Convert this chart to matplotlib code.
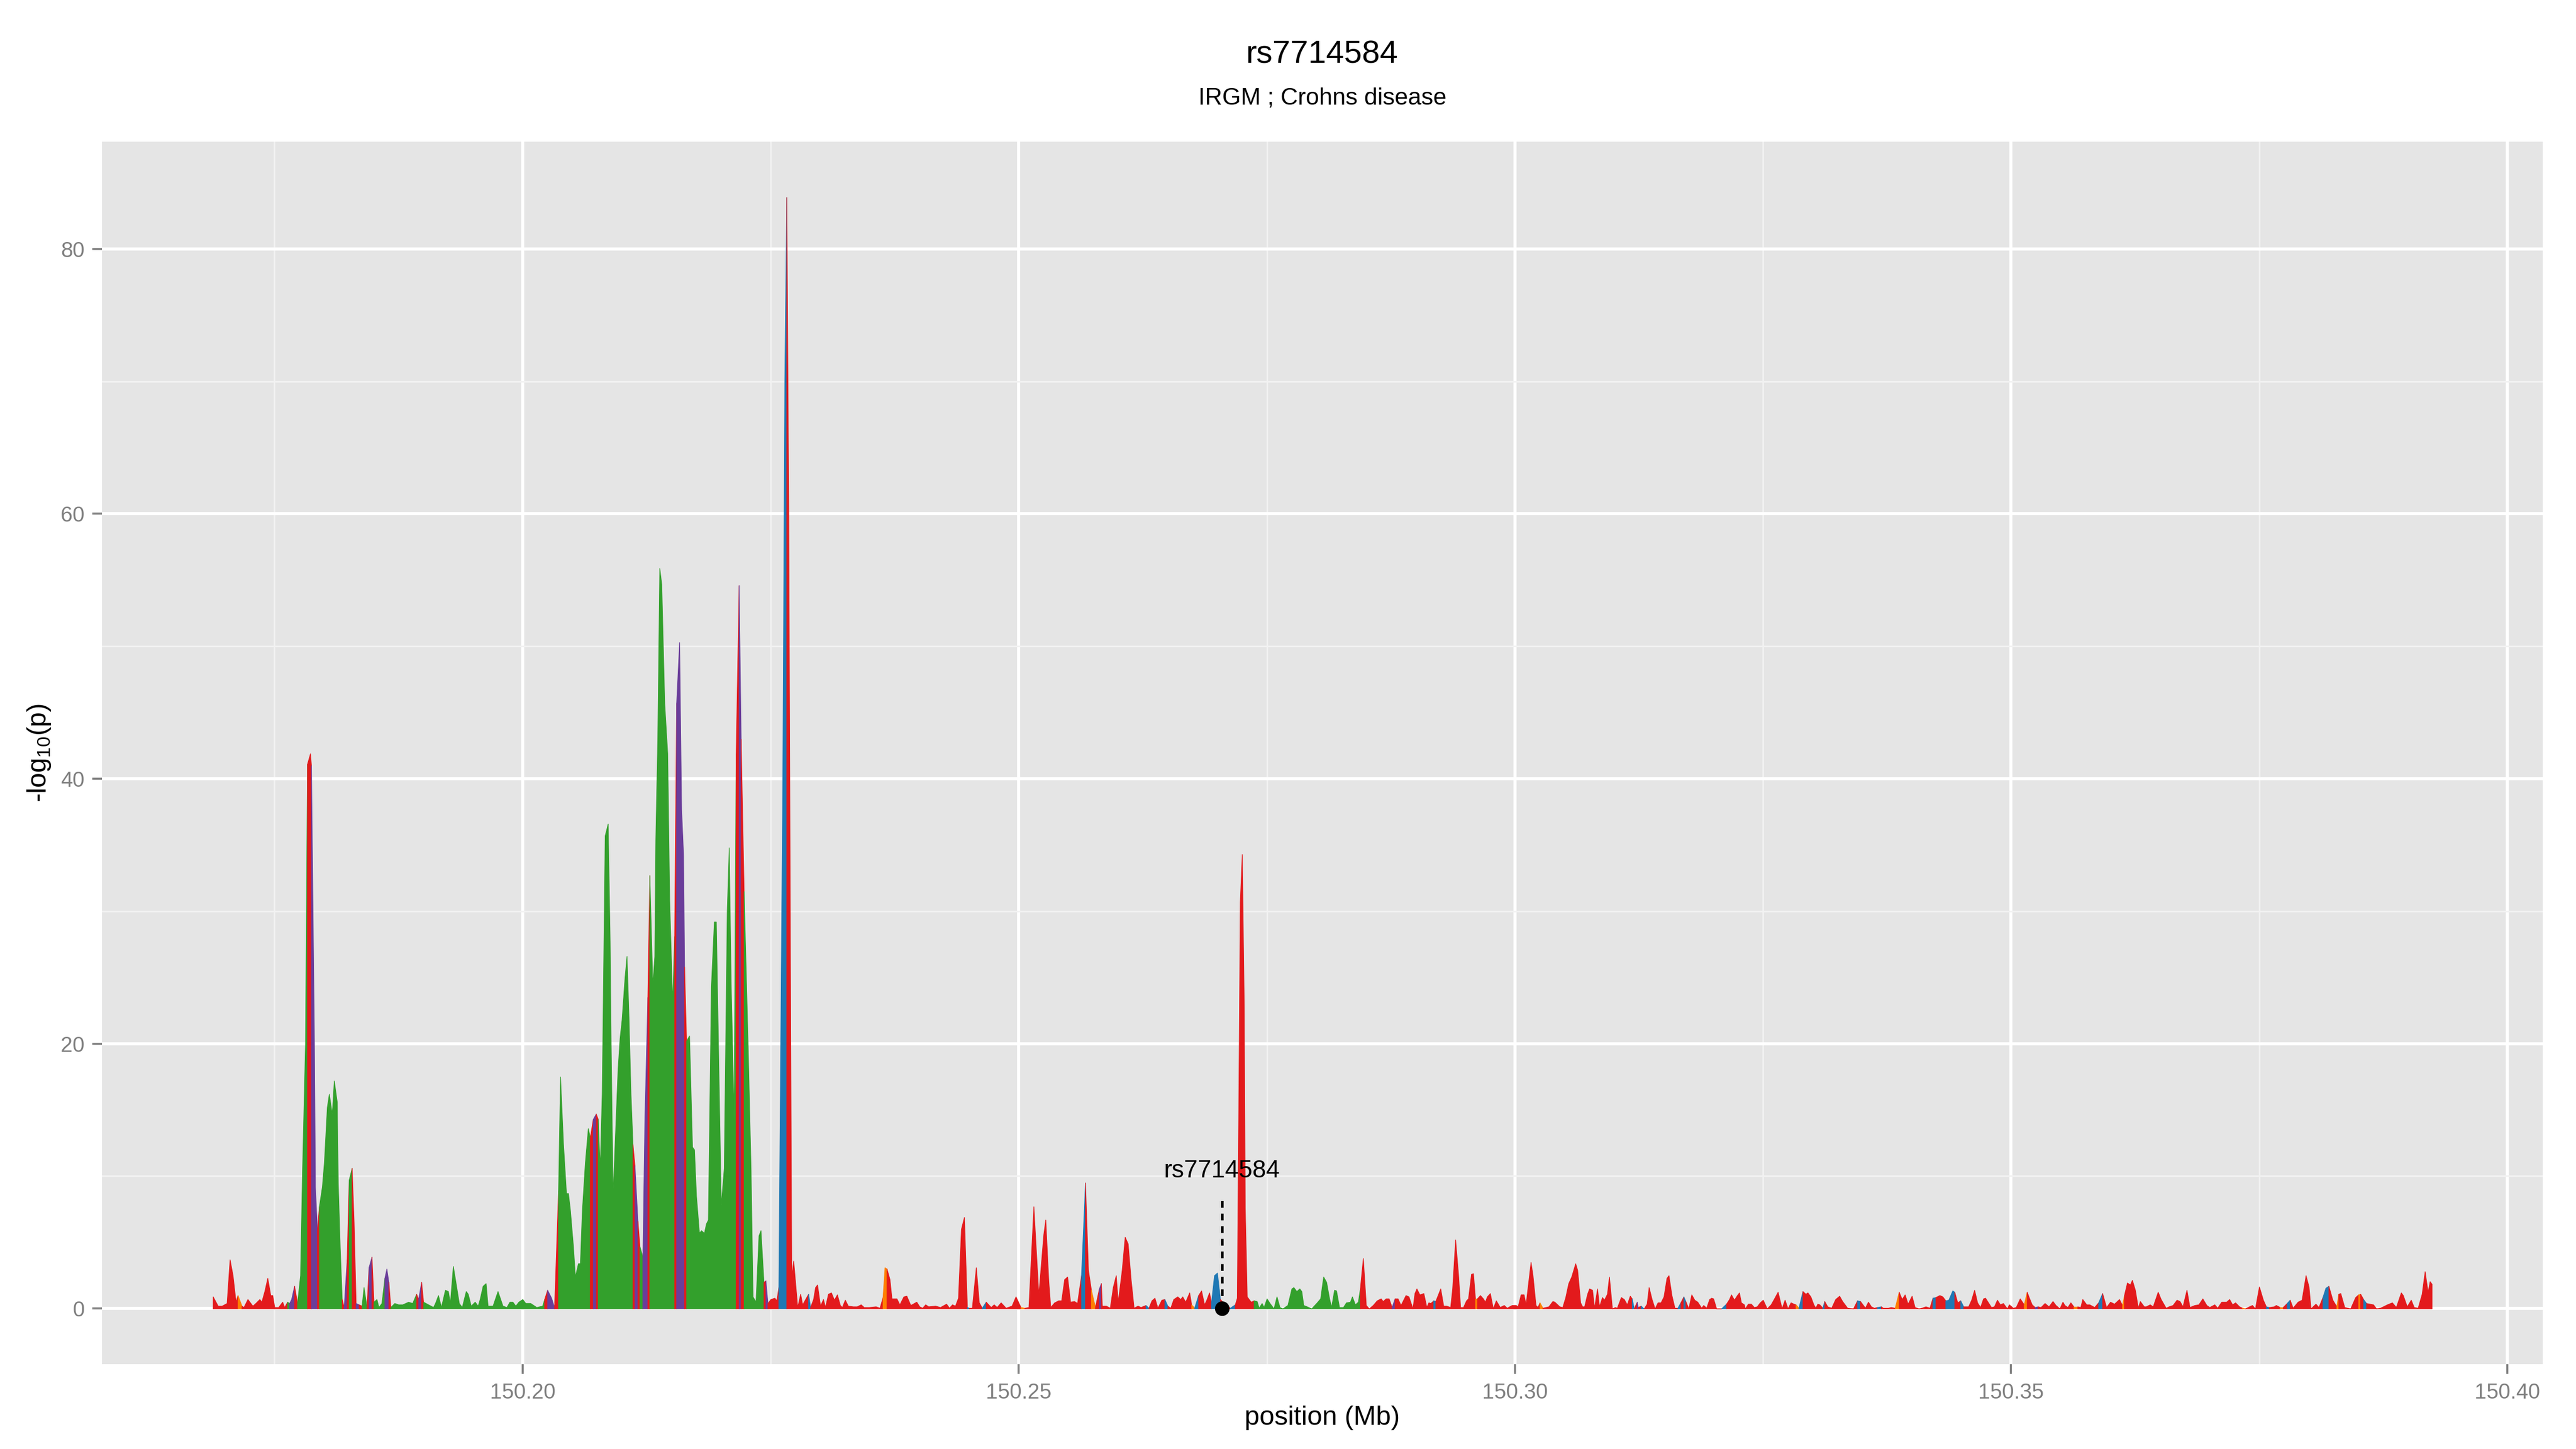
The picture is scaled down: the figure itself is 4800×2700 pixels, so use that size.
import numpy as np
import matplotlib
matplotlib.use("Agg")
import matplotlib.pyplot as plt
from matplotlib.ticker import MultipleLocator, FixedLocator

plt.rcParams['font.family'] = ['Liberation Sans', 'DejaVu Sans']
plt.rcParams['mathtext.fontset'] = 'custom'
plt.rcParams['mathtext.rm'] = 'Liberation Sans'
plt.rcParams['mathtext.it'] = 'Liberation Sans:italic'

# chart values
title = 'rs7714584'
subtitle = 'IRGM ; Crohns disease'
snp_label = 'rs7714584'
snp_pos = 150.2705
snp_line_top = 8.35

pos_mb = [
    150.1688, 150.1693, 150.1697, 150.1702, 150.1705, 150.1708, 150.1711, 150.1713, 150.1717, 150.1719,
    150.1723, 150.1728, 150.1731, 150.1735, 150.1737, 150.1740, 150.1743, 150.1746, 150.1748, 150.1750,
    150.1754, 150.1758, 150.1760, 150.1763, 150.1765, 150.1767, 150.1770, 150.1773, 150.1776, 150.1778,
    150.1781, 150.1783, 150.1786, 150.1787, 150.1790, 150.1791, 150.1793, 150.1795, 150.1798, 150.1800, 150.1803,
    150.1805, 150.1808, 150.1810, 150.1813, 150.1814, 150.1816, 150.1818, 150.1820, 150.1823, 150.1825,
    150.1828, 150.1830, 150.1832, 150.1835, 150.1838, 150.1840, 150.1843, 150.1845, 150.1848, 150.1850,
    150.1853, 150.1855, 150.1858, 150.1861, 150.1863, 150.1865, 150.1867, 150.1871, 150.1875, 150.1879,
    150.1885, 150.1889, 150.1893, 150.1895, 150.1898, 150.1900, 150.1905, 150.1910, 150.1912, 150.1915,
    150.1918, 150.1922, 150.1925, 150.1927, 150.1930, 150.1936, 150.1939, 150.1943, 150.1945, 150.1948,
    150.1952, 150.1955, 150.1957, 150.1960, 150.1963, 150.1965, 150.1970, 150.1975, 150.1980, 150.1984,
    150.1987, 150.1990, 150.1993, 150.1996, 150.2000, 150.2003, 150.2008, 150.2014, 150.2020, 150.2022,
    150.2025, 150.2029, 150.2032, 150.2036, 150.2038, 150.2041, 150.2044, 150.2046, 150.2048, 150.2051,
    150.2053, 150.2056, 150.2058, 150.2060, 150.2063, 150.2066, 150.2068, 150.2071, 150.2074, 150.2076,
    150.2078, 150.2080, 150.2083, 150.2086, 150.2088, 150.2089, 150.2091, 150.2093, 150.2096, 150.2098,
    150.2100, 150.2103, 150.2105, 150.2107, 150.2109, 150.2111, 150.2113, 150.2116, 150.2118, 150.2121,
    150.2123, 150.2126, 150.2128, 150.2131, 150.2133, 150.2134, 150.2136, 150.2138, 150.2140, 150.2143,
    150.2146, 150.2148, 150.2151, 150.2153, 150.2155, 150.2158, 150.2160, 150.2162, 150.2163, 150.2165,
    150.2168, 150.2171, 150.2173, 150.2175, 150.2178, 150.2180, 150.2183, 150.2185, 150.2187, 150.2190,
    150.2193, 150.2195, 150.2198, 150.2200, 150.2203, 150.2206, 150.2208, 150.2210, 150.2213, 150.2214,
    150.2215, 150.2218, 150.2220, 150.2223, 150.2227, 150.2230, 150.2232, 150.2235, 150.2238, 150.2240,
    150.2243, 150.2245, 150.2247, 150.2250, 150.2254, 150.2256, 150.2258, 150.2262, 150.2264, 150.2266,
    150.2268, 150.2270, 150.2271, 150.2273, 150.2277, 150.2280, 150.2282, 150.2288, 150.2290, 150.2293,
    150.2295, 150.2297, 150.2300, 150.2303, 150.2305, 150.2308, 150.2311, 150.2314, 150.2317, 150.2320,
    150.2322, 150.2325, 150.2328, 150.2333, 150.2337, 150.2341, 150.2344, 150.2349, 150.2356, 150.2360,
    150.2363, 150.2365, 150.2367, 150.2370, 150.2372, 150.2377, 150.2380, 150.2384, 150.2387, 150.2391,
    150.2397, 150.2400, 150.2403, 150.2406, 150.2409, 150.2416, 150.2421, 150.2427, 150.2430, 150.2433,
    150.2436, 150.2439, 150.2442, 150.2445, 150.2448, 150.2450, 150.2453, 150.2457, 150.2460, 150.2463,
    150.2467, 150.2472, 150.2475, 150.2478, 150.2482, 150.2487, 150.2493, 150.2497, 150.2502, 150.2506,
    150.2510, 150.2515, 150.2520, 150.2525, 150.2527, 150.2530, 150.2532, 150.2536, 150.2540, 150.2543,
    150.2546, 150.2549, 150.2552, 150.2556, 150.2559, 150.2563, 150.2567, 150.2570, 150.2573, 150.2577,
    150.2581, 150.2583, 150.2584, 150.2588, 150.2592, 150.2595, 150.2598, 150.2600, 150.2604, 150.2607,
    150.2610, 150.2613, 150.2616, 150.2620, 150.2623, 150.2628, 150.2631, 150.2634, 150.2637, 150.2640,
    150.2644, 150.2647, 150.2650, 150.2653, 150.2656, 150.2660, 150.2663, 150.2665, 150.2668, 150.2672,
    150.2674, 150.2677, 150.2681, 150.2684, 150.2687, 150.2689, 150.2692, 150.2694, 150.2697, 150.2700,
    150.2703, 150.2708, 150.2713, 150.2718, 150.2720, 150.2722, 150.2723, 150.2725, 150.2727, 150.2728,
    150.2730, 150.2734, 150.2737, 150.2740, 150.2742, 150.2745, 150.2747, 150.2750, 150.2753, 150.2757,
    150.2760, 150.2763, 150.2766, 150.2771, 150.2775, 150.2777, 150.2780, 150.2783, 150.2785, 150.2787,
    150.2792, 150.2795, 150.2800, 150.2804, 150.2807, 150.2810, 150.2813, 150.2815, 150.2818, 150.2820,
    150.2823, 150.2827, 150.2830, 150.2834, 150.2836, 150.2839, 150.2842, 150.2844, 150.2847, 150.2850,
    150.2853, 150.2857, 150.2861, 150.2865, 150.2867, 150.2870, 150.2873, 150.2876, 150.2879, 150.2882,
    150.2885, 150.2890, 150.2893, 150.2897, 150.2899, 150.2901, 150.2904, 150.2908, 150.2911, 150.2913,
    150.2915, 150.2918, 150.2920, 150.2925, 150.2928, 150.2931, 150.2935, 150.2937, 150.2940, 150.2943,
    150.2945, 150.2948, 150.2951, 150.2953, 150.2956, 150.2958, 150.2960, 150.2962, 150.2965, 150.2968,
    150.2970, 150.2972, 150.2975, 150.2978, 150.2981, 150.2985, 150.2989, 150.2992, 150.2997, 150.3001,
    150.3003, 150.3006, 150.3009, 150.3011, 150.3016, 150.3018, 150.3021, 150.3023, 150.3025, 150.3028,
    150.3031, 150.3034, 150.3038, 150.3040, 150.3045, 150.3048, 150.3051, 150.3054, 150.3057, 150.3061,
    150.3063, 150.3066, 150.3068, 150.3070, 150.3073, 150.3075, 150.3078, 150.3080, 150.3083, 150.3085,
    150.3088, 150.3090, 150.3093, 150.3095, 150.3098, 150.3101, 150.3103, 150.3107, 150.3110, 150.3113,
    150.3116, 150.3118, 150.3120, 150.3123, 150.3124, 150.3127, 150.3130, 150.3133, 150.3135, 150.3138,
    150.3141, 150.3144, 150.3147, 150.3150, 150.3153, 150.3155, 150.3158, 150.3161, 150.3164, 150.3167,
    150.3170, 150.3172, 150.3175, 150.3178, 150.3181, 150.3184, 150.3188, 150.3190, 150.3193, 150.3196,
    150.3198, 150.3200, 150.3203, 150.3208, 150.3213, 150.3216, 150.3218, 150.3221, 150.3224, 150.3226,
    150.3228, 150.3231, 150.3232, 150.3235, 150.3238, 150.3241, 150.3244, 150.3247, 150.3250, 150.3254,
    150.3258, 150.3261, 150.3265, 150.3269, 150.3272, 150.3275, 150.3278, 150.3281, 150.3283, 150.3286,
    150.3290, 150.3293, 150.3295, 150.3298, 150.3301, 150.3303, 150.3305, 150.3307, 150.3310, 150.3312,
    150.3315, 150.3319, 150.3323, 150.3327, 150.3330, 150.3335, 150.3341, 150.3345, 150.3348, 150.3353,
    150.3356, 150.3359, 150.3362, 150.3365, 150.3369, 150.3371, 150.3376, 150.3379, 150.3383, 150.3387,
    150.3390, 150.3393, 150.3396, 150.3400, 150.3403, 150.3407, 150.3410, 150.3414, 150.3418, 150.3421,
    150.3424, 150.3428, 150.3431, 150.3434, 150.3437, 150.3441, 150.3443, 150.3446, 150.3449, 150.3452,
    150.3457, 150.3460, 150.3463, 150.3466, 150.3469, 150.3472, 150.3474, 150.3477, 150.3480, 150.3483,
    150.3486, 150.3489, 150.3492, 150.3496, 150.3498, 150.3502, 150.3505, 150.3509, 150.3513, 150.3516,
    150.3518, 150.3521, 150.3524, 150.3527, 150.3530, 150.3534, 150.3538, 150.3542, 150.3545, 150.3549,
    150.3552, 150.3554, 150.3557, 150.3560, 150.3563, 150.3567, 150.3570, 150.3572, 150.3576, 150.3579,
    150.3584, 150.3588, 150.3592, 150.3596, 150.3600, 150.3604, 150.3609, 150.3612, 150.3614, 150.3617,
    150.3620, 150.3622, 150.3625, 150.3628, 150.3630, 150.3634, 150.3636, 150.3640, 150.3643, 150.3648,
    150.3651, 150.3656, 150.3659, 150.3663, 150.3667, 150.3670, 150.3673, 150.3677, 150.3680, 150.3685,
    150.3689, 150.3693, 150.3697, 150.3700, 150.3705, 150.3708, 150.3712, 150.3717, 150.3720, 150.3723,
    150.3726, 150.3730, 150.3733, 150.3736, 150.3740, 150.3743, 150.3746, 150.3750, 150.3754, 150.3757,
    150.3760, 150.3765, 150.3767, 150.3771, 150.3774, 150.3778, 150.3781, 150.3784, 150.3789, 150.3793,
    150.3797, 150.3800, 150.3802, 150.3807, 150.3810, 150.3814, 150.3817, 150.3820, 150.3824, 150.3828,
    150.3830, 150.3832, 150.3836, 150.3842, 150.3847, 150.3850, 150.3852, 150.3855, 150.3858, 150.3865,
    150.3868, 150.3872, 150.3875, 150.3879, 150.3884, 150.3888, 150.3893, 150.3895, 150.3899, 150.3903,
    150.3906, 150.3910, 150.3914, 150.3917, 150.3920, 150.3922, 150.3924,
]

logp = [
    0.9, 0.2, 0.2, 0.4, 3.7, 2.5, 0.5, 1.0, 0.2, 0.1,
    0.7, 0.2, 0.4, 0.7, 0.5, 1.3, 2.3, 1.0, 1.0, 0.1,
    0.1, 0.5, 0.1, 0.5, 0.4, 0.7, 1.7, 0.4, 2.5, 10.4,
    20.0, 41.1, 41.9, 41.0, 20.0, 9.2, 5.9, 7.7, 9.2, 11.0, 15.2,
    16.2, 14.7, 17.2, 15.6, 9.5, 4.6, 0.7, 0.1, 3.7, 9.7,
    10.6, 6.5, 0.4, 0.3, 0.2, 1.6, 0.1, 3.1, 3.9, 0.5,
    0.7, 0.1, 0.4, 2.3, 3.0, 2.0, 0.1, 0.4, 0.3, 0.3,
    0.5, 0.4, 1.1, 0.7, 2.0, 0.5, 0.3, 0.1, 0.4, 1.0,
    0.1, 1.4, 1.3, 0.4, 3.2, 0.4, 0.1, 1.3, 1.1, 0.2,
    0.5, 0.2, 0.7, 1.7, 1.9, 0.2, 0.2, 1.3, 0.2, 0.1,
    0.5, 0.5, 0.2, 0.5, 0.7, 0.4, 0.4, 0.1, 0.2, 0.7,
    1.4, 0.8, 0.1, 8.9, 17.5, 12.4, 8.7, 8.7, 7.4, 4.7,
    2.4, 3.4, 3.4, 7.4, 11.0, 13.6, 12.9, 14.3, 14.7, 14.3,
    10.6, 16.2, 35.7, 36.6, 27.7, 20.0, 8.5, 12.4, 18.1, 20.4,
    21.8, 25.0, 26.6, 22.0, 16.2, 12.4, 10.8, 6.6, 4.7, 3.9,
    14.3, 23.5, 32.7, 24.4, 26.6, 35.4, 43.0, 55.9, 54.7, 45.7,
    41.9, 30.8, 23.1, 28.1, 45.7, 50.3, 37.7, 34.2, 25.8, 20.2,
    20.6, 12.2, 12.0, 8.5, 5.7, 5.9, 5.7, 6.4, 6.7, 24.3,
    29.2, 29.2, 16.2, 7.8, 10.6, 30.0, 34.8, 24.3, 14.3, 29.2,
    41.9, 54.6, 43.0, 31.5, 20.0, 10.5, 0.9, 0.5, 5.5, 5.9,
    2.0, 2.1, 0.4, 0.7, 0.8, 0.6, 1.6, 40.0, 70.0, 83.9,
    60.0, 20.0, 2.4, 3.6, 0.1, 1.1, 0.3, 1.1, 0.1, 0.7,
    1.6, 1.8, 0.2, 0.7, 0.1, 1.1, 1.2, 0.65, 1.05, 0.25,
    0.1, 0.65, 0.2, 0.15, 0.15, 0.3, 0.1, 0.1, 0.15, 0.05,
    0.85, 3.1, 3.0, 2.2, 0.75, 0.75, 0.3, 0.9, 0.95, 0.25,
    0.5, 0.15, 0.05, 0.3, 0.15, 0.2, 0.1, 0.35, 0.05, 0.3,
    0.2, 0.8, 6.0, 6.9, 0.1, 0.05, 0.05, 3.1, 0.45, 0.05,
    0.5, 0.1, 0.3, 0.1, 0.45, 0.05, 0.2, 0.9, 0.1, 0.05,
    0.1, 7.7, 1.05, 5.6, 6.7, 2.1, 0.1, 0.45, 0.6, 0.6,
    2.2, 2.4, 0.5, 0.55, 0.4, 2.5, 9.5, 2.9, 1.4, 0.1,
    1.5, 1.9, 0.2, 0.2, 0.05, 1.6, 2.5, 0.5, 2.9, 5.4,
    4.9, 2.2, 0.05, 0.2, 0.1, 0.25, 0.05, 0.6, 0.8, 0.05,
    0.65, 0.7, 0.2, 0.05, 0.7, 0.9, 0.7, 0.9, 0.5, 1.2,
    0.3, 0.05, 1.0, 1.35, 0.3, 0.6, 1.2, 0.45, 2.5, 2.7,
    0.7, 0.3, 0.05, 0.3, 0.8, 20.3, 30.7, 34.3, 22.8, 7.6,
    0.9, 0.5, 0.6, 0.55, 0.05, 0.4, 0.1, 0.75, 0.4, 0.0,
    0.9, 0.1, 0.0, 0.25, 1.5, 1.6, 1.3, 1.5, 1.3, 0.25,
    0.1, 0.0, 0.4, 0.75, 2.4, 2.0, 0.75, 0.1, 1.4, 1.35,
    0.1, 0.1, 0.45, 0.5, 0.9, 0.3, 0.5, 1.5, 3.8, 0.25,
    0.0, 0.25, 0.6, 0.75, 0.55, 0.75, 0.75, 0.1, 0.75, 0.75,
    0.25, 1.0, 0.9, 0.0, 1.15, 1.5, 1.05, 1.15, 0.1, 0.45,
    0.4, 0.6, 0.55, 1.5, 0.2, 0.2, 0.1, 1.5, 5.2, 2.5,
    0.1, 0.1, 0.6, 0.75, 2.6, 2.65, 0.75, 0.75, 1.0, 0.75,
    0.5, 0.9, 1.15, 0.0, 0.6, 0.1, 0.25, 0.05, 0.25, 0.25,
    0.15, 1.05, 1.05, 0.3, 3.5, 2.5, 0.25, 0.1, 0.45, 0.05,
    0.1, 0.15, 0.55, 0.5, 0.15, 0.1, 0.85, 1.9, 2.4, 3.4,
    2.9, 0.45, 0.15, 0.15, 1.1, 1.5, 1.4, 0.05, 1.5, 0.15,
    0.85, 0.65, 1.1, 2.4, 0.0, 0.1, 0.05, 0.85, 0.7, 0.3,
    0.95, 0.75, 0.0, 0.5, 0.1, 0.2, 0.0, 0.35, 1.6, 0.7,
    0.0, 0.45, 0.45, 0.9, 2.3, 2.5, 1.0, 0.05, 0.05, 0.45,
    0.9, 0.55, 0.0, 1.05, 0.65, 0.5, 0.05, 0.25, 0.05, 0.7,
    0.8, 0.75, 0.0, 0.0, 0.35, 0.7, 1.05, 0.65, 1.0, 1.2,
    0.45, 0.3, 0.0, 0.35, 0.35, 0.1, 0.15, 0.45, 0.65, 0.0,
    0.3, 0.7, 1.25, 0.0, 0.65, 0.0, 0.45, 0.35, 0.3, 0.05,
    1.3, 1.1, 1.2, 0.9, 0.3, 0.05, 0.35, 0.3, 0.05, 0.55,
    0.15, 0.05, 0.7, 0.95, 0.55, 0.05, 0.0, 0.6, 0.55, 0.05,
    0.5, 0.15, 0.05, 0.1, 0.15, 0.05, 0.05, 0.1, 0.05, 1.25,
    0.7, 1.05, 0.35, 0.95, 0.1, 0.0, 0.05, 0.15, 0.05, 0.8,
    0.85, 1.0, 0.9, 0.6, 0.65, 1.35, 1.25, 0.45, 0.6, 0.15,
    0.15, 0.65, 1.4, 0.45, 0.1, 0.75, 0.8, 0.45, 0.1, 0.15,
    0.65, 0.3, 0.4, 0.0, 0.3, 0.05, 0.1, 0.75, 0.3, 1.25,
    0.85, 0.3, 0.1, 0.15, 0.1, 0.4, 0.15, 0.55, 0.25, 0.0,
    0.5, 0.25, 0.1, 0.45, 0.15, 0.15, 0.1, 0.7, 0.3, 0.3,
    0.1, 0.45, 1.15, 0.1, 0.5, 0.35, 0.7, 0.25, 1.0, 1.95,
    1.8, 2.15, 1.4, 0.05, 0.55, 0.15, 0.15, 0.3, 0.15, 1.25,
    0.7, 0.05, 0.15, 0.25, 0.65, 0.55, 0.15, 1.4, 0.1, 0.25,
    0.3, 0.75, 0.25, 0.1, 0.3, 0.05, 0.5, 0.5, 0.7, 0.3,
    0.45, 0.15, 0.05, 0.0, 0.15, 0.25, 0.0, 1.65, 0.65, 0.15,
    0.1, 0.15, 0.25, 0.1, 0.1, 0.4, 0.65, 0.05, 0.5, 0.65,
    2.5, 1.65, 0.0, 0.35, 0.1, 0.85, 1.55, 1.7, 0.65, 0.15,
    1.1, 1.15, 0.1, 0.0, 0.85, 1.05, 1.1, 0.7, 0.4, 0.3,
    0.0, 0.05, 0.15, 0.3, 0.45, 0.1, 1.2, 1.0, 0.15, 0.65,
    0.1, 0.05, 1.1, 2.8, 1.25, 2.05, 1.85,
]

# LD class of the stretch that starts at each break position
ld_breaks = [
    150.1688, 150.1713, 150.1717, 150.1763, 150.1765, 150.1770, 150.1773, 150.1783, 150.1787, 150.1793,
    150.1795, 150.1818, 150.1820, 150.1823, 150.1825, 150.1828, 150.1832, 150.1835, 150.1838, 150.1843,
    150.1845, 150.1848, 150.1850, 150.1861, 150.1865, 150.1867, 150.1893, 150.1895, 150.1898, 150.1900,
    150.2022, 150.2025, 150.2032, 150.2036, 150.2068, 150.2071, 150.2074, 150.2076, 150.2111, 150.2113,
    150.2116, 150.2118, 150.2121, 150.2126, 150.2128, 150.2153, 150.2155, 150.2163, 150.2165, 150.2215,
    150.2218, 150.2220, 150.2223, 150.2243, 150.2245, 150.2247, 150.2258, 150.2266, 150.2288, 150.2290,
    150.2363, 150.2367, 150.2448, 150.2450, 150.2463, 150.2467, 150.2502, 150.2506, 150.2563, 150.2567,
    150.2573, 150.2577, 150.2581, 150.2583, 150.2628, 150.2631, 150.2647, 150.2650, 150.2674, 150.2677,
    150.2681, 150.2694, 150.2703, 150.2713, 150.2718, 150.2737, 150.2844, 150.2876, 150.2879, 150.2918,
    150.2920, 150.2960, 150.2962, 150.3025, 150.3028, 150.3118, 150.3120, 150.3123, 150.3124, 150.3127,
    150.3130, 150.3164, 150.3167, 150.3170, 150.3172, 150.3208, 150.3213, 150.3283, 150.3286, 150.3290,
    150.3310, 150.3312, 150.3345, 150.3348, 150.3365, 150.3369, 150.3383, 150.3387, 150.3421, 150.3424,
    150.3434, 150.3443, 150.3449, 150.3452, 150.3513, 150.3516, 150.3524, 150.3527, 150.3563, 150.3567,
    150.3588, 150.3592, 150.3612, 150.3614, 150.3733, 150.3736, 150.3757, 150.3760, 150.3771, 150.3774,
    150.3778, 150.3781, 150.3814, 150.3820, 150.3828, 150.3830, 150.3850, 150.3852, 150.3855, 150.3858,
]
ld_codes = [
    'r', 'o', 'r', 'g', 'p', 'r', 'g', 'r', 'p', 'r',
    'g', 'r', 'p', 'r', 'g', 'r', 'p', 'r', 'g', 'r',
    'p', 'r', 'g', 'p', 'r', 'g', 'r', 'p', 'r', 'g',
    'r', 'p', 'r', 'g', 'r', 'p', 'r', 'g', 'r', 'p',
    'r', 'g', 'p', 'r', 'g', 'r', 'p', 'r', 'g', 'r',
    'p', 'r', 'g', 'r', 'p', 'r', 'b', 'r', 'b', 'r',
    'o', 'r', 'b', 'r', 'b', 'r', 'o', 'r', 'b', 'r',
    'o', 'r', 'p', 'r', 'b', 'r', 'b', 'r', 'o', 'b',
    'r', 'b', 'r', 'b', 'r', 'g', 'r', 'p', 'r', 'b',
    'r', 'o', 'r', 'o', 'r', 'b', 'r', 'p', 'r', 'b',
    'r', 'b', 'r', 'b', 'r', 'b', 'r', 'o', 'b', 'r',
    'b', 'r', 'b', 'r', 'b', 'r', 'o', 'r', 'b', 'r',
    'b', 'r', 'b', 'r', 'o', 'r', 'p', 'r', 'o', 'r',
    'b', 'r', 'o', 'r', 'o', 'r', 'b', 'r', 'o', 'r',
    'b', 'r', 'b', 'r', 'o', 'r', 'o', 'r', 'b', 'r',
]
ld_palette = {'r': '#E31A1C', 'g': '#33A02C', 'p': '#6A3D9A',
              'b': '#1F78B4', 'o': '#FF7F00'}

y_ticks = [0, 20, 40, 60, 80]
x_ticks = [150.20, 150.25, 150.30, 150.35, 150.40]
x_tick_labels = ['150.20', '150.25', '150.30', '150.35', '150.40']


def main():
    pos = np.array(pos_mb)
    vals = np.array(logp)
    assert len(pos) == len(vals)
    assert len(ld_breaks) == len(ld_codes)

    # colour of each segment = class of the last break at or before its start
    idx = np.searchsorted(np.array(ld_breaks), pos + 1e-7, side='right') - 1
    seg_col = [ld_codes[max(i, 0)] for i in idx]

    fig = plt.figure(figsize=(16, 9), dpi=300)
    ax = fig.add_axes([0.0396, 0.0586, 0.9475, 0.8436])
    ax.set_facecolor('#E5E5E5')
    for sp in ax.spines.values():
        sp.set_visible(False)

    # draw runs of equal colour as one polygon each
    start = 0
    n = len(pos)
    for i in range(1, n):
        if i == n - 1 or seg_col[i] != seg_col[start]:
            c = ld_palette[seg_col[start]]
            ax.fill_between(pos[start:i + 1], 0, vals[start:i + 1],
                            facecolor=c, edgecolor=c, linewidth=0.3, zorder=2)
            start = i

    # highlighted snp
    ax.plot([snp_pos, snp_pos], [0, snp_line_top], color='black', lw=1.2,
            ls=(0, (2.5, 2.2)), zorder=4)
    ax.plot([snp_pos], [0], 'o', color='black', ms=5.5, zorder=5)
    ax.text(snp_pos, 10.4, snp_label, ha='center', va='center', fontsize=11,
            color='black', zorder=5)

    # limits with ggplot-style 5% expansion
    xpad = 0.05 * (pos.max() - pos.min())
    ypad = 0.05 * vals.max()
    ax.set_xlim(pos.min() - xpad, pos.max() + xpad)
    ax.set_ylim(-ypad, vals.max() + ypad)

    ax.xaxis.set_major_locator(FixedLocator(x_ticks))
    ax.set_xticklabels(x_tick_labels)
    ax.yaxis.set_major_locator(FixedLocator(y_ticks))
    ax.xaxis.set_minor_locator(MultipleLocator(0.025))
    ax.yaxis.set_minor_locator(MultipleLocator(10))
    ax.set_axisbelow(True)
    ax.grid(which='major', color='white', lw=1.35, zorder=0)
    ax.grid(which='minor', color='#F2F2F2', lw=0.7, zorder=0)
    ax.tick_params(which='major', length=4.3, width=0.9, color='#7F7F7F',
                   labelcolor='#7F7F7F', labelsize=9.6)
    ax.tick_params(axis='x', which='major', pad=4)
    ax.tick_params(axis='y', which='major', pad=3.5)
    ax.tick_params(which='minor', length=0)

    cx = 0.0396 + 0.9475 / 2
    cy = 0.0586 + 0.8436 / 2
    fig.text(cx, 0.9563, title, ha='center', va='baseline', fontsize=14.4)
    fig.text(cx, 0.9278, subtitle, ha='center', va='baseline', fontsize=10.7)
    fig.text(cx, 0.0215, 'position (Mb)', ha='center', va='center', fontsize=12)
    fig.text(0.0152, cy, r'-log$_{10}$(p)', ha='center', va='center',
             rotation=90, fontsize=12)

    fig.savefig('out.png', dpi=300)


if __name__ == "__main__":
    main()
